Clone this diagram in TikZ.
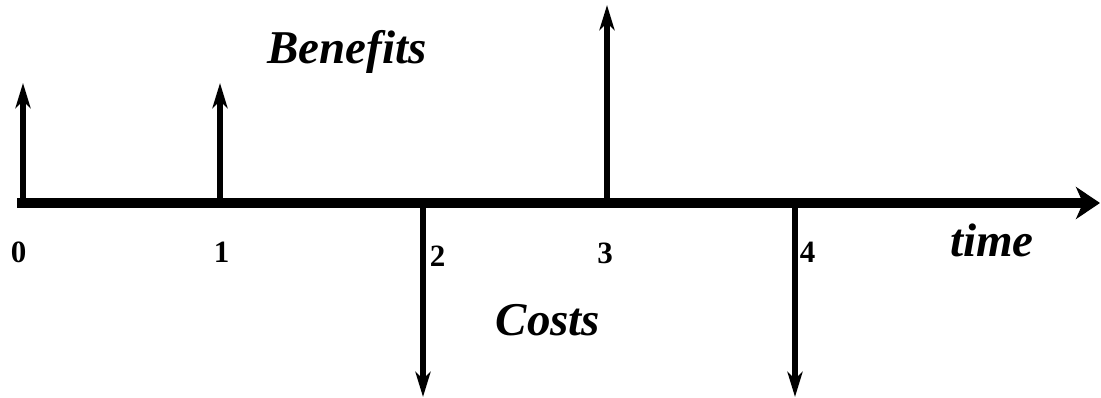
\documentclass[tikz,border=0pt]{standalone}
\usepackage{fontspec}
\setmainfont{Liberation Serif}
\usetikzlibrary{arrows.meta}
\begin{document}
\begin{tikzpicture}[x=1pt,y=-1pt,
  axisline/.style={line width=10pt,-{Stealth[length=24pt,width=32pt,inset=7pt]}},
  flow/.style={line width=5.5pt,-{Stealth[length=25pt,width=15pt,inset=7pt]}},
  biglabel/.style={font=\fontsize{47}{52}\selectfont\bfseries\itshape,inner sep=0pt,anchor=base},
  numlabel/.style={font=\fontsize{31}{34}\selectfont\bfseries,inner sep=0pt,anchor=base}]
\useasboundingbox (0,0) rectangle (1101,398);
\coordinate (start) at (17,203);
\coordinate (end) at (1100,203);
\coordinate (t0) at (23,203);
\coordinate (t1) at (220,203);
\coordinate (t2) at (423,203);
\coordinate (t3) at (607,203);
\coordinate (t4) at (795,203);
\coordinate (b0) at (23,83);
\coordinate (b1) at (220,83);
\coordinate (b3) at (607,5);
\coordinate (c2) at (423,397);
\coordinate (c4) at (795,397);
\draw[axisline] (start) -- (end);
\draw[flow] (t0) -- (b0);
\draw[flow] (t1) -- (b1);
\draw[flow] (t3) -- (b3);
\draw[flow] (t2) -- (c2);
\draw[flow] (t4) -- (c4);
\node[biglabel] (benefits) at (347,64) {Benefits};
\node[biglabel] (costs) at (548,335) {Costs};
\node[biglabel] (time) at (992,257) {time};
\node[numlabel] (n0) at (18.5,263) {0};
\node[numlabel] (n1) at (221.5,263) {1};
\node[numlabel] (n2) at (437.5,267) {2};
\node[numlabel] (n3) at (605,264) {3};
\node[numlabel] (n4) at (807.5,263) {4};
\end{tikzpicture}
\end{document}
